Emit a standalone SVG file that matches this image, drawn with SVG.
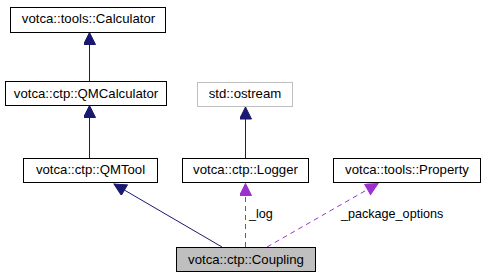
<svg xmlns="http://www.w3.org/2000/svg" width="485" height="279" viewBox="0 0 485 279">
  <style>
    .box { fill: #ffffff; stroke: #000000; stroke-width: 1; }
    .ext { fill: #ffffff; stroke: #bfbfbf; stroke-width: 1; }
    .cur { fill: #bfbfbf; stroke: #000000; stroke-width: 1; }
    .lbl { font-family: "Liberation Sans", Arial, Helvetica, sans-serif; font-size: 13.2px; fill: #000000; text-anchor: middle; }
    .edge-lbl { font-family: "Liberation Sans", Arial, Helvetica, sans-serif; font-size: 12.6px; fill: #000000; }
    .inherit { fill: none; stroke: #191970; stroke-width: 1; }
    .usage { fill: none; stroke: #9a32cd; stroke-width: 1; stroke-dasharray: 5,4; }
  </style>
  <defs>
    <marker id="arrow-inherit" markerUnits="userSpaceOnUse" markerWidth="14" markerHeight="14" refX="13" refY="6" orient="auto">
      <path d="M1,0 L13,6 L1,12 Z" fill="#191970" stroke="#191970" stroke-width="1"/>
    </marker>
    <marker id="arrow-usage" markerUnits="userSpaceOnUse" markerWidth="14" markerHeight="14" refX="13" refY="6" orient="auto">
      <path d="M1,0 L13,6 L1,12 Z" fill="#9a32cd" stroke="#9a32cd" stroke-width="1"/>
    </marker>
  </defs>

  <!-- connectors -->
  <g id="edges">
    <line class="inherit" x1="89.5" y1="81" x2="89.5" y2="32.5" marker-end="url(#arrow-inherit)"/>
    <line class="inherit" x1="89.5" y1="158" x2="89.5" y2="105.5" marker-end="url(#arrow-inherit)"/>
    <line class="inherit" x1="245.5" y1="158" x2="245.5" y2="107" marker-end="url(#arrow-inherit)"/>
    <line class="inherit" x1="222" y1="247" x2="114" y2="184" marker-end="url(#arrow-inherit)"/>
    <line class="usage" x1="245.5" y1="247" x2="245.5" y2="183.5" marker-end="url(#arrow-usage)"/>
    <line class="usage" x1="267" y1="247" x2="378" y2="183.5" marker-end="url(#arrow-usage)"/>
    <text class="edge-lbl" x="249" y="218">_log</text>
    <text class="edge-lbl" x="341" y="218">_package_options</text>
  </g>

  <!-- nodes -->
  <g id="node-calculator">
    <rect class="box" x="10.5" y="7.5" width="155" height="25"/>
    <text class="lbl" x="88.5" y="23">votca::tools::Calculator</text>
  </g>
  <g id="node-qmcalculator">
    <rect class="box" x="5.5" y="81.5" width="161" height="24"/>
    <text class="lbl" x="86" y="97.5">votca::ctp::QMCalculator</text>
  </g>
  <g id="node-ostream">
    <rect class="ext" x="197.5" y="82.5" width="95" height="24"/>
    <text class="lbl" x="245" y="98">std::ostream</text>
  </g>
  <g id="node-qmtool">
    <rect class="box" x="23.5" y="158.5" width="134" height="24"/>
    <text class="lbl" x="90.5" y="174">votca::ctp::QMTool</text>
  </g>
  <g id="node-logger">
    <rect class="box" x="182.5" y="158.5" width="126" height="24"/>
    <text class="lbl" x="245.5" y="174">votca::ctp::Logger</text>
  </g>
  <g id="node-property">
    <rect class="box" x="333.5" y="158.5" width="147" height="24"/>
    <text class="lbl" x="407" y="174">votca::tools::Property</text>
  </g>
  <g id="node-coupling">
    <rect class="cur" x="176.5" y="247.5" width="139" height="24"/>
    <text class="lbl" x="246" y="263.5">votca::ctp::Coupling</text>
  </g>
</svg>
